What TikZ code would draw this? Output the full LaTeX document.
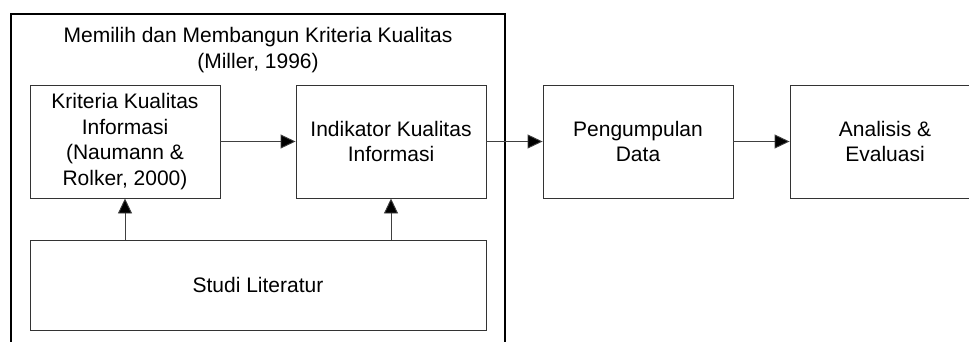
\documentclass[tikz,border=0pt]{standalone}
\usepackage{fontspec}
\setmainfont{Liberation Sans}
\usetikzlibrary{arrows.meta}
\begin{document}
\begin{tikzpicture}[x=1pt,y=-1pt,
  boxnode/.style={draw=black!80,line width=0.9pt,inner sep=0pt,align=center,
    minimum width=190pt,minimum height=113pt,
    font=\fontsize{21}{25.5}\selectfont},
  flow/.style={draw=black!75,line width=0.9pt,
    -{Triangle[length=15pt,width=14pt,fill=black]}},
  frame/.style={draw=black,line width=1.8pt}]
\useasboundingbox (0,0) rectangle (969,341);
\clip (0,0) rectangle (969,341);
% outer frame, open at the bottom
\draw[frame] (11,350) -- (11,14) -- (505,14) -- (505,350);
\node[align=center,font=\fontsize{21}{25.5}\selectfont] (title) at (258,50)
  {Memilih dan Membangun Kriteria Kualitas\\(Miller, 1996)};
% process boxes
\node[boxnode] (kriteria) at (125,141.5) {Kriteria Kualitas\\Informasi\\(Naumann \&\\Rolker, 2000)};
\node[boxnode] (indikator) at (391,141.5) {Indikator Kualitas\\Informasi};
\node[boxnode] (data) at (638,141.5) {Pengumpulan\\Data};
\node[boxnode] (analisis) at (885,141.5) {Analisis \&\\Evaluasi};
\node[boxnode,minimum width=456pt,minimum height=90pt] (studi) at (258,285) {Studi Literatur};
% connectors
\draw[flow] (kriteria) -- (indikator);
\draw[flow] (indikator) -- (data);
\draw[flow] (data) -- (analisis);
\draw[flow] (studi.north -| kriteria.south) -- (kriteria.south);
\draw[flow] (studi.north -| indikator.south) -- (indikator.south);
\end{tikzpicture}
\end{document}
